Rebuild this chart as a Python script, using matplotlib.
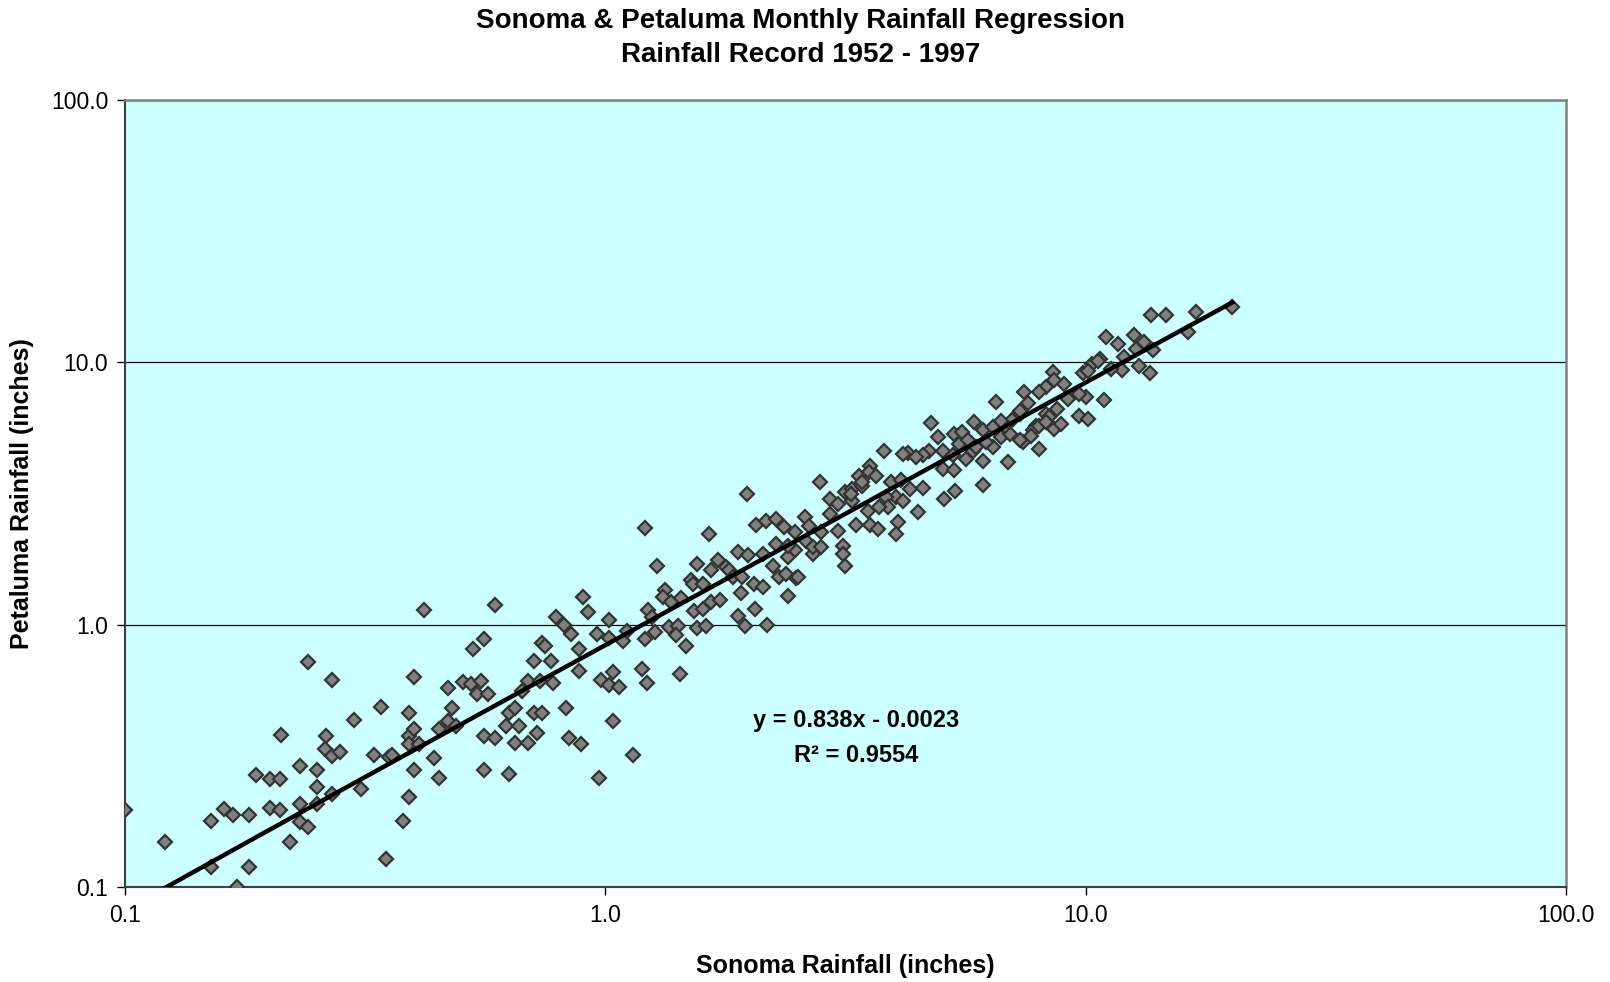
import numpy as np
import matplotlib.pyplot as plt

plt.rcParams['font.family'] = ['Liberation Sans', 'DejaVu Sans']

# monthly totals (inches), Sonoma vs Petaluma
sonoma = [
    0.10, 0.121, 0.151, 0.151, 0.171, 0.181, 0.161, 0.168, 0.181, 0.211,
    0.187, 0.20, 0.21, 0.20, 0.21, 0.231, 0.231, 0.231, 0.24, 0.221,
    0.251, 0.251, 0.251, 0.262, 0.261, 0.27, 0.28, 0.27, 0.27, 0.24,
    0.30, 0.31, 0.33, 0.342, 0.355, 0.36, 0.35, 0.38, 0.39, 0.39,
    0.39,
    0.42, 0.59, 0.79, 0.82, 0.74, 0.75, 1.02, 0.56, 0.53, 0.71,
    0.77, 0.40, 0.47, 0.505, 0.525, 0.55, 0.54, 0.57, 0.69, 0.73,
    0.78, 0.67, 0.88, 0.98, 1.04, 1.02, 1.07, 0.48, 0.63, 0.65,
    0.71, 0.74, 0.83, 0.45, 0.47, 0.49, 0.40, 0.39, 0.41, 0.62,
    0.66, 0.56, 0.59, 0.65, 0.69, 0.72, 0.84, 0.89, 1.04, 1.14,
    0.44, 0.40, 0.45, 0.56, 0.63, 0.97,
    1.21, 1.64, 1.28, 0.90, 0.92, 1.02, 0.85, 0.96, 1.09, 1.11,
    0.88, 1.23, 1.25, 1.21, 1.27, 1.33, 1.32, 1.37, 1.44, 1.36,
    1.42, 1.40, 1.47, 1.55, 1.62, 1.51, 1.52, 1.60, 1.55, 1.66,
    1.72, 1.78, 1.81, 1.84, 1.53, 1.60, 1.66, 1.73, 1.92, 1.93,
    1.89, 1.98, 2.04, 2.13, 2.13, 2.05, 1.89, 1.95, 2.17, 2.23,
    2.30, 2.38, 2.50, 2.40, 2.06, 2.16, 2.27, 2.36, 2.48, 2.60,
    2.65, 2.27, 2.40, 2.48, 2.62, 2.70,
    2.70, 2.40, 2.52, 1.19, 1.22, 1.43, 1.97, 2.80,
    6.51, 7.57, 8.27, 7.90, 8.60, 7.40, 8.00, 6.88, 4.77, 4.92,
    5.33, 5.54, 5.86, 6.10, 6.40, 6.65, 6.95, 7.30, 7.76, 3.81,
    4.26, 4.73, 4.58, 5.04, 5.29, 5.64, 5.82, 6.10, 6.40, 3.55,
    3.54, 3.38, 3.66, 3.94, 4.13, 4.30, 4.58, 5.04, 5.33, 4.03,
    3.84, 4.16, 3.87, 4.47, 5.08, 5.35, 6.10, 2.93, 3.15, 3.27,
    3.43, 3.05, 3.27, 3.52, 3.72, 2.93, 3.05, 3.32, 3.55, 3.69,
    4.06, 4.02, 3.12, 3.12, 3.16, 2.81, 2.81,
    4.16, 4.44, 5.46, 5.68, 5.91, 6.20, 6.78, 7.05, 7.30, 3.43,
    3.25,
    11.0, 12.6, 11.7, 13.2, 13.8, 12.7, 12.0, 16.3, 10.7, 10.3,
    10.6, 9.86, 10.1, 11.9, 12.9, 13.6, 11.3, 8.57, 9.0, 8.6,
    8.27, 8.0, 7.45, 9.2, 10.0, 9.7, 10.9, 8.7, 7.3, 8.4,
    9.7, 10.1, 8.0, 8.9, 7.7, 6.65, 8.27,
    13.7, 14.7, 17.0, 20.2,
]
petaluma = [
    0.197, 0.149, 0.119, 0.178, 0.10, 0.119, 0.199, 0.188, 0.188, 0.379,
    0.267, 0.259, 0.259, 0.20, 0.197, 0.289, 0.208, 0.177, 0.170, 0.149,
    0.279, 0.241, 0.208, 0.375, 0.337, 0.315, 0.327, 0.227, 0.614, 0.72,
    0.435, 0.237, 0.318, 0.486, 0.313, 0.318, 0.128, 0.178, 0.22, 0.46,
    0.375,
    1.14, 1.19, 1.07, 1.0, 0.85, 0.83, 0.89, 0.88, 0.81, 0.73,
    0.73, 0.63, 0.575, 0.605, 0.596, 0.61, 0.545, 0.545, 0.61, 0.61,
    0.60, 0.56, 0.665, 0.617, 0.66, 0.59, 0.58, 0.48, 0.46, 0.48,
    0.46, 0.46, 0.48, 0.40, 0.43, 0.41, 0.40, 0.35, 0.35, 0.41,
    0.41, 0.375, 0.37, 0.355, 0.355, 0.385, 0.37, 0.35, 0.43, 0.32,
    0.31, 0.28, 0.26, 0.28, 0.27, 0.26,
    2.34, 2.22, 1.67, 1.27, 1.12, 1.04, 0.92, 0.92, 0.87, 0.95,
    0.81, 1.14, 1.07, 0.88, 0.94, 1.35, 1.27, 1.22, 1.26, 0.98,
    0.99, 0.91, 0.83, 0.97, 0.99, 1.48, 1.43, 1.43, 1.70, 1.61,
    1.77, 1.66, 1.61, 1.52, 1.13, 1.15, 1.22, 1.24, 1.32, 1.52,
    1.89, 1.84, 1.43, 1.86, 1.39, 1.15, 1.08, 0.99, 1.0, 1.68,
    1.52, 1.56, 1.50, 1.29, 2.39, 2.48, 2.53, 2.35, 2.25, 2.57,
    2.37, 2.03, 1.81, 1.92, 2.09, 1.86,
    1.98, 2.00, 1.52, 0.68, 0.60, 0.65, 3.14, 3.50,
    7.04, 7.0, 6.36, 5.73, 5.58, 4.96, 4.68, 4.16, 5.86, 5.21,
    5.34, 5.41, 5.90, 5.50, 5.66, 5.19, 5.34, 5.04, 5.53, 4.58,
    4.50, 4.60, 4.42, 4.60, 4.42, 4.29, 4.60, 4.22, 4.74, 4.04,
    3.81, 3.70, 3.70, 3.50, 3.55, 3.30, 3.32, 3.93, 3.87, 3.06,
    3.06, 2.97, 2.80, 2.68, 3.01, 3.24, 3.42, 3.01, 3.20, 3.29,
    3.39, 2.89, 2.97, 2.72, 2.80, 2.64, 2.28, 2.39, 2.39, 2.32,
    2.46, 2.22, 2.00, 1.86, 1.67, 1.98, 2.25,
    4.48, 4.35, 4.89, 5.04, 4.74, 4.96, 5.74, 6.09, 6.36, 3.50,
    3.15,
    12.5, 12.7, 11.7, 12.0, 11.1, 11.2, 10.5, 13.1, 10.3, 9.86,
    10.1, 9.08, 9.3, 9.35, 9.7, 9.1, 9.45, 9.16, 8.28, 8.58,
    8.03, 7.69, 7.69, 7.26, 7.36, 7.57, 7.19, 6.63, 6.54, 6.18,
    6.27, 6.09, 5.73, 5.83, 5.26, 5.99, 5.90,
    15.1, 15.2, 15.5, 16.2,
]

# linear trend fitted to the monthly pairs
slope = 0.838
intercept = -0.0023
r_squared = 0.9554

fig = plt.figure(figsize=(16.1, 9.82), dpi=100)
ax = fig.add_axes([0.0776, 0.0967, 0.8951, 0.8015])
ax.set_facecolor('#CCFFFF')

ax.plot(sonoma, petaluma, linestyle='none', marker='D', ms=6.8,
        mfc='#808080', mec='#333333', mew=1.6, zorder=3)

xs = np.geomspace(min(sonoma), max(sonoma), 300)
ax.plot(xs, slope * xs + intercept, color='black', lw=3.2, zorder=4)

ax.set_xscale('log')
ax.set_yscale('log')
ax.set_xlim(0.1, 100)
ax.set_ylim(0.1, 100)

ticks = [0.1, 1.0, 10.0, 100.0]
ax.set_xticks(ticks)
ax.set_yticks(ticks)
ax.set_xticklabels(['0.1', '1.0', '10.0', '100.0'])
ax.set_yticklabels(['0.1', '1.0', '10.0', '100.0'])
ax.minorticks_off()
ax.tick_params(axis='both', which='major', direction='out', length=6,
               width=1, color='black', labelsize=16.5, pad=6)

ax.grid(axis='y', which='major', color='black', lw=0.9)
ax.set_axisbelow(True)

for side in ['top', 'right']:
    ax.spines[side].set_color('#808080')
    ax.spines[side].set_linewidth(1.8)
for side in ['left', 'bottom']:
    ax.spines[side].set_color('#404040')
    ax.spines[side].set_linewidth(1.5)

ax.set_xlabel('Sonoma Rainfall (inches)', fontsize=18, fontweight='bold',
              labelpad=20)
ax.set_ylabel('Petaluma Rainfall (inches)', fontsize=18, fontweight='bold',
              labelpad=12)

fig.text(0.4975, 0.979, 'Sonoma & Petaluma Monthly Rainfall Regression',
         ha='center', va='center', fontsize=20, fontweight='bold')
fig.text(0.4975, 0.944, 'Rainfall Record 1952 - 1997',
         ha='center', va='center', fontsize=20, fontweight='bold')

ax.text(3.33, 0.432, f'y = {slope}x - {abs(intercept)}', ha='center',
        va='center', fontsize=17, fontweight='bold')
ax.text(3.33, 0.318, f'R\u00b2 = {r_squared}', ha='center', va='center',
        fontsize=17, fontweight='bold')

fig.savefig('out.png', dpi=100)
